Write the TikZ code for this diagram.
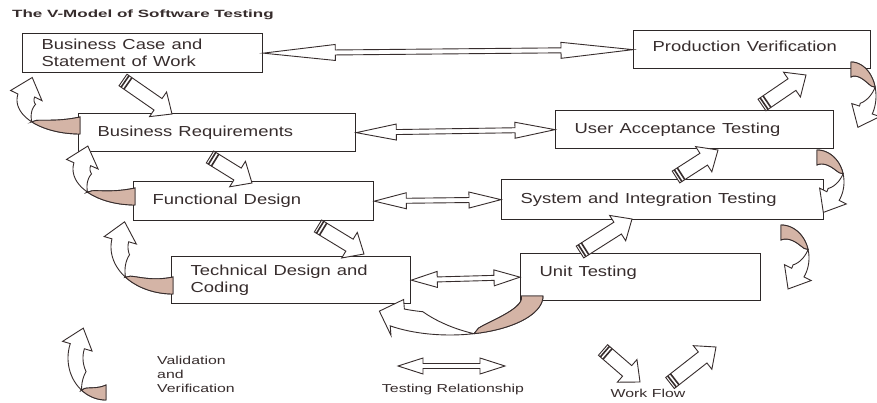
\documentclass[tikz,border=0pt]{standalone}
\usepackage{fontspec}
\setmainfont{Liberation Sans}
\usepackage{graphicx}
\usetikzlibrary{calc}
\definecolor{ink}{RGB}{55,45,45}
\definecolor{boxline}{RGB}{45,40,40}
\definecolor{shadec}{RGB}{212,180,166}
\tikzset{
    vbox/.style={rectangle,draw=boxline,line width=1.3pt,fill=white,inner xsep=19pt,inner ysep=0pt,
        align=left,anchor=north west,text=ink,font=\fontsize{14.5}{17}\selectfont},
    testrel/.style={draw=ink,fill=white,line width=0.9pt},
    workflow/.style={draw=ink,fill=white,line width=0.9pt},
    wfstripe/.style={ink,line width=1.6pt},
    vvarrow/.style={draw=ink,fill=white,line width=0.9pt},
    vvshade/.style={draw=ink,fill=shadec,line width=0.9pt},
    titletext/.style={text=ink,inner sep=0pt,font=\bfseries\fontsize{10.5}{12}\selectfont},
    legendtext/.style={text=ink,inner sep=0pt,align=left,font=\fontsize{11.5}{14}\selectfont}
}
\newcommand{\wide}[2][1.27]{\scalebox{#1}[1]{#2}}
% double block arrow between two boxes: from, to, head length
\newcommand{\TestRel}[3]{%
    \draw[testrel] (#1)
        -- ($(#1)!#3!(#2)!8pt!90:(#2)$) -- ($(#1)!#3!(#2)!2.5pt!90:(#2)$)
        -- ($(#2)!#3!(#1)!2.5pt!-90:(#1)$) -- ($(#2)!#3!(#1)!8pt!-90:(#1)$)
        -- (#2)
        -- ($(#2)!#3!(#1)!8pt!90:(#1)$) -- ($(#2)!#3!(#1)!2.5pt!90:(#1)$)
        -- ($(#1)!#3!(#2)!2.5pt!-90:(#2)$) -- ($(#1)!#3!(#2)!8pt!-90:(#2)$)
        -- cycle;%
}
% striped block arrow: tail, tip
\newcommand{\WorkFlow}[2]{%
    \draw[workflow] ($(#1)!7pt!90:(#2)$)
        -- ($(#2)!17pt!(#1)!7pt!-90:(#1)$) -- ($(#2)!17pt!(#1)!15pt!-90:(#1)$)
        -- (#2)
        -- ($(#2)!17pt!(#1)!15pt!90:(#1)$) -- ($(#2)!17pt!(#1)!7pt!90:(#1)$)
        -- ($(#1)!7pt!-90:(#2)$) -- cycle;
    \draw[wfstripe] ($(#1)!2.5pt!(#2)!7pt!90:(#2)$) -- ($(#1)!2.5pt!(#2)!7pt!-90:(#2)$);
    \draw[wfstripe] ($(#1)!6pt!(#2)!7pt!90:(#2)$) -- ($(#1)!6pt!(#2)!7pt!-90:(#2)$);%
}
% curved ribbon arrow: centre x, centre y, radius x, radius y, start, end, shaded span, width
\newcommand{\ValArrow}[8]{%
    \pgfmathsetmacro{\aS}{#5+#7}%
    \pgfmathsetmacro{\aT}{#5+1.5*#7}%
    \pgfmathsetmacro{\vtx}{-#3*sin(#6)}%
    \pgfmathsetmacro{\vty}{#4*cos(#6)}%
    \pgfmathsetmacro{\vtn}{veclen(\vtx,\vty)}%
    \pgfmathsetmacro{\vhw}{#8/2+8}%
    \coordinate (vo) at ({#1+#3*cos(#6)},{#2+#4*sin(#6)});
    \coordinate (vi) at ({#1+(#3-#8)*cos(#6)},{#2+(#4-#8)*sin(#6)});
    \coordinate (vm) at ($(vo)!0.5!(vi)$);
    \draw[vvarrow] plot[domain=#5:#6,samples=40] ({#1+#3*cos(\x)},{#2+#4*sin(\x)})
        -- ($(vm)+({\vhw*\vty/\vtn},{-\vhw*\vtx/\vtn})$)
        -- ($(vm)+({19*\vtx/\vtn},{19*\vty/\vtn})$)
        -- ($(vm)+({-\vhw*\vty/\vtn},{\vhw*\vtx/\vtn})$) -- (vi)
        -- plot[domain=#6:\aT,samples=25] ({#1+(#3-#8)*cos(\x)},{#2+(#4-#8)*sin(\x)})
        -- plot[domain=\aT:\aS,samples=12] ({#1+(#3-#8*(\x-\aS)/(\aT-\aS))*cos(\x)},{#2+(#4-#8*(\x-\aS)/(\aT-\aS))*sin(\x)})
        -- plot[domain=\aS:#5,samples=20] ({#1+(#3-#8*sqrt(abs(\aS-\x)/#7))*cos(\x)},{#2+(#4-#8*sqrt(abs(\aS-\x)/#7))*sin(\x)})
        -- cycle;
    \draw[vvshade] plot[domain=#5:\aS,samples=20] ({#1+#3*cos(\x)},{#2+#4*sin(\x)})
        -- plot[domain=\aS:#5,samples=20] ({#1+(#3-#8*sqrt(abs(\aS-\x)/#7))*cos(\x)},{#2+(#4-#8*sqrt(abs(\aS-\x)/#7))*sin(\x)})
        -- cycle;%
}

\begin{document}
\begin{tikzpicture}[x=1pt,y=-1pt]

    \useasboundingbox[fill=white] (0,0) rectangle (877,403);

    % title
    \node[titletext,anchor=west] (title) at (12,15) {\wide[1.62]{The V-Model of Software Testing}};

    % left branch of the V
    \node[vbox,text width=202pt,minimum height=39pt] (bcase) at (22,33) {\wide{Business Case and}\\\wide{Statement of Work}};
    \node[vbox,text width=239pt,minimum height=38pt] (bizreq) at (78,113) {\wide{Business Requirements}};
    \node[vbox,text width=202pt,minimum height=39pt] (funcdes) at (133,181) {\wide{Functional Design}};
    \node[vbox,text width=201pt,minimum height=47pt] (techdes) at (171,256) {\wide{Technical Design and}\\\wide{Coding}};

    % right branch of the V
    \node[vbox,text width=199pt,minimum height=38pt] (prodver) at (633,30) {\wide{Production Verification}\\[-10pt]\mbox{}};
    \node[vbox,text width=240pt,minimum height=38pt] (useracc) at (555,110) {\wide{User Acceptance Testing}};
    \node[vbox,text width=284pt,minimum height=40pt] (sysint) at (501,179) {\wide{System and Integration Testing}};
    \node[vbox,text width=202pt,minimum height=47pt] (unittest) at (520,253) {\wide{Unit Testing}\\[-5pt]\mbox{}};

    % testing relationships
    \TestRel{bcase.east}{prodver.west}{72pt}
    \TestRel{bizreq.east}{useracc.west}{40pt}
    \TestRel{funcdes.east}{sysint.west}{32pt}
    \TestRel{techdes.east}{unittest.west}{26pt}

    % work flow
    \coordinate (wf1a) at (123,80);  \coordinate (wf1b) at (172,114);
    \coordinate (wf2a) at (210,157); \coordinate (wf2b) at (252,183);
    \coordinate (wf3a) at (318,226); \coordinate (wf3b) at (364,254);
    \coordinate (wf4a) at (580,252); \coordinate (wf4b) at (632,219);
    \coordinate (wf5a) at (676,177); \coordinate (wf5b) at (718,150);
    \coordinate (wf6a) at (762,105); \coordinate (wf6b) at (806,75);
    \WorkFlow{wf1a}{wf1b}
    \WorkFlow{wf2a}{wf2b}
    \WorkFlow{wf3a}{wf3b}
    \WorkFlow{wf4a}{wf4b}
    \WorkFlow{wf5a}{wf5b}
    \WorkFlow{wf6a}{wf6b}

    % validation and verification
    \ValArrow{80}{100}{63}{34}{90}{190}{50}{17}
    \ValArrow{135}{169}{62}{36}{90}{190}{50}{17}
    \ValArrow{173}{247}{62}{47}{90}{190}{50}{17}
    \ValArrow{851}{96}{25}{34}{270}{392}{75}{15}
    \ValArrow{817}{182}{27}{32}{270}{395}{75}{15}
    \ValArrow{781}{258}{28}{33}{270}{395}{75}{15}
    \ValArrow{450}{296}{93}{39}{0}{130}{75}{22}

    % legend
    \ValArrow{106}{358}{38}{42}{90}{200}{40}{15}
    \node[legendtext,anchor=north west] (vvtext) at (157,356) {\wide[1.38]{Validation}\\\wide[1.38]{and}\\\wide[1.38]{Verification}};

    \coordinate (trl) at (398,366); \coordinate (trr) at (505,366);
    \TestRel{trl}{trr}{25pt}
    \node[legendtext] (trtext) at (453,390) {\wide[1.38]{Testing Relationship}};

    \coordinate (wfla) at (603,350); \coordinate (wflb) at (640,382);
    \coordinate (wfra) at (670,383); \coordinate (wfrb) at (716,347);
    \WorkFlow{wfla}{wflb}
    \WorkFlow{wfra}{wfrb}
    \node[legendtext] (wftext) at (648,393) {\wide[1.38]{Work Flow}};

\end{tikzpicture}
\end{document}
